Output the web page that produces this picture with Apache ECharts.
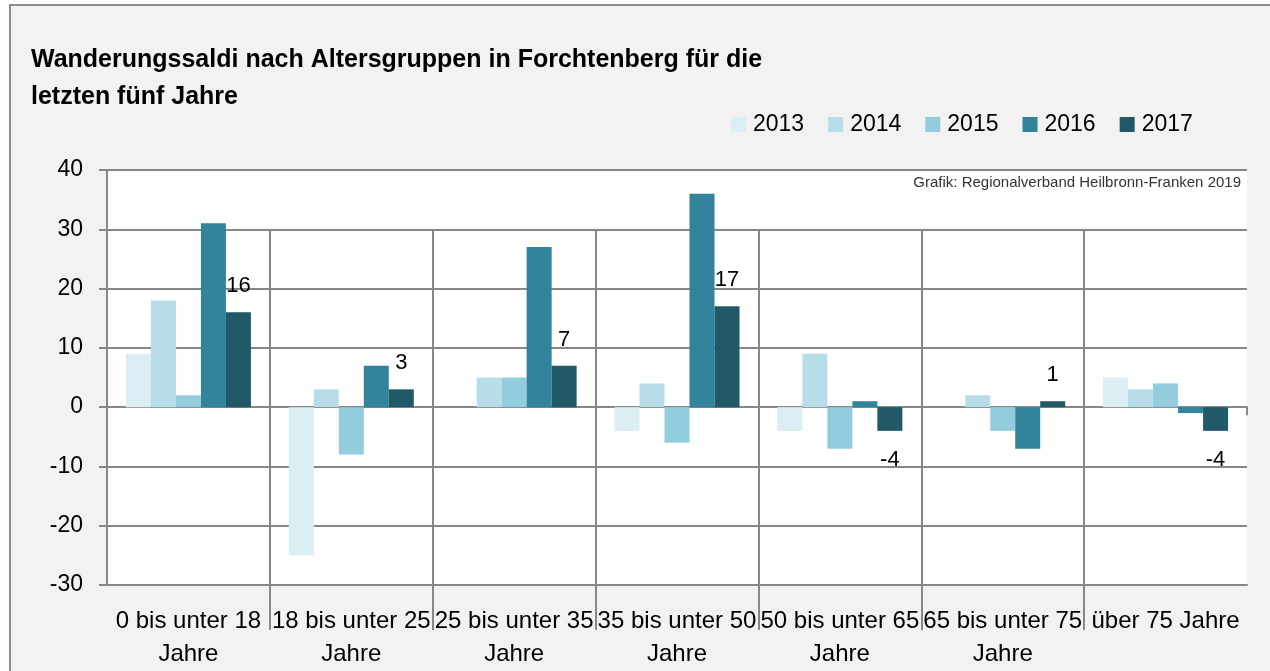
<!DOCTYPE html>
<html>
<head>
<meta charset="utf-8">
<script src="https://cdn.jsdelivr.net/npm/echarts@6/dist/echarts.min.js"></script>
<style>
  html, body { margin: 0; padding: 0; background: #fff; }
  #chart { width: 1270px; height: 671px; }
</style>
</head>
<body>
<div id="chart"></div>
<script>
// Altersgruppen
var categories = [
  '0 bis unter 18\nJahre',
  '18 bis unter 25\nJahre',
  '25 bis unter 35\nJahre',
  '35 bis unter 50\nJahre',
  '50 bis unter 65\nJahre',
  '65 bis unter 75\nJahre',
  'über 75 Jahre'
];
var years = ['2013', '2014', '2015', '2016', '2017'];

// Wanderungssaldi je Jahr
var saldo2013 = [9, -25, 0, -4, -4, 0, 5];
var saldo2014 = [18, 3, 5, 4, 9, 2, 3];
var saldo2015 = [2, -8, 5, -6, -7, -4, 4];
var saldo2016 = [31, 7, 27, 36, 1, -7, -1];
var saldo2017 = [16, 3, 7, 17, -4, 1, -4];

var yTicks = [-30, -20, -10, 0, 10, 20, 30, 40];

var colors = ['#daeef3', '#b7dee8', '#93cddd', '#31849b', '#215968'];
var font = 'Liberation Sans';
var gridColor = '#878787';

var chart = echarts.init(document.getElementById('chart'));

function barSeries(name, data, idx) {
  return {
    name: name,
    type: 'bar',
    xAxisIndex: 0,
    yAxisIndex: 0,
    barWidth: 25,
    barGap: '0%',
    itemStyle: { color: colors[idx] },
    data: data
  };
}

// Trennlinien zwischen den Gruppen: im Diagramm (30 bis -30) und darunter
var separators = [];
var separatorsBelow = [];
for (var k = 1; k < categories.length; k++) {
  separators.push([{ coord: [k, yTicks[yTicks.length - 2]] }, { coord: [k, yTicks[0]] }]);
  separatorsBelow.push([{ coord: [k, 0] }, { coord: [k, 1] }]);
}

function separatorSeries(xIdx, yIdx, lines) {
  return {
    type: 'line',
    xAxisIndex: xIdx,
    yAxisIndex: yIdx,
    data: [],
    silent: true,
    markLine: {
      silent: true,
      symbol: 'none',
      label: { show: false },
      lineStyle: { color: gridColor, width: 2, type: 'solid' },
      data: lines
    }
  };
}

var series = [
  barSeries(years[0], saldo2013, 0),
  barSeries(years[1], saldo2014, 1),
  barSeries(years[2], saldo2015, 2),
  barSeries(years[3], saldo2016, 3),
  barSeries(years[4], saldo2017.map(function (v) {
    return {
      value: v,
      label: { position: v < 0 ? 'bottom' : 'top', distance: v < 0 ? 18 : 15 }
    };
  }), 4)
];
series[4].label = {
  show: true,
  fontFamily: font,
  fontSize: 22,
  color: '#000'
};
series.push(separatorSeries(1, 0, separators));
series.push(separatorSeries(3, 1, separatorsBelow));

chart.setOption({
  backgroundColor: '#fff',
  animation: false,
  graphic: [
    {
      type: 'rect',
      z: -10,
      shape: { x: 10, y: 5, width: 1300, height: 700 },
      style: { fill: '#f2f2f2', stroke: '#8c8c8c', lineWidth: 2 }
    },
    {
      type: 'text',
      right: 29,
      top: 175,
      z: 10,
      style: {
        text: 'Grafik: Regionalverband Heilbronn-Franken 2019',
        font: '15px "Liberation Sans"',
        fill: '#333'
      }
    }
  ],
  title: {
    text: 'Wanderungssaldi nach Altersgruppen in Forchtenberg für die\nletzten fünf Jahre',
    left: 31,
    top: 42,
    padding: 0,
    textStyle: {
      fontFamily: font,
      fontSize: 25,
      fontWeight: 'bold',
      color: '#000',
      lineHeight: 37
    }
  },
  legend: {
    data: years,
    left: 731,
    top: 113,
    padding: 0,
    icon: 'rect',
    itemWidth: 15,
    itemHeight: 15,
    itemGap: 24,
    textStyle: { fontFamily: font, fontSize: 23, color: '#000', padding: [0, 0, 0, 2] }
  },
  grid: [
    {
      left: 107,
      right: 23,
      top: 170,
      bottom: 86,
      show: true,
      backgroundColor: '#fff',
      borderWidth: 0
    },
    {
      left: 107,
      right: 23,
      top: 585,
      height: 45,
      show: false
    }
  ],
  xAxis: [
    {
      type: 'category',
      data: categories,
      position: 'bottom',
      axisLine: { onZero: false, lineStyle: { color: gridColor, width: 2 } },
      axisTick: { show: false },
      axisLabel: {
        interval: 0,
        margin: 20,
        fontFamily: font,
        fontSize: 24,
        lineHeight: 33,
        color: '#000'
      }
    },
    {
      type: 'value',
      min: 0,
      max: categories.length,
      show: false
    },
    {
      type: 'category',
      data: categories,
      position: 'bottom',
      axisLine: { onZero: true, onZeroAxisIndex: 0, lineStyle: { color: gridColor, width: 2 } },
      axisTick: { show: true, length: 8, interval: 0, lineStyle: { color: gridColor, width: 2 } },
      axisLabel: { show: false }
    },
    {
      type: 'value',
      gridIndex: 1,
      min: 0,
      max: categories.length,
      show: false
    }
  ],
  yAxis: [
    {
      type: 'value',
      min: yTicks[0],
      max: yTicks[yTicks.length - 1],
      interval: 10,
      axisLine: { show: true, onZero: false, lineStyle: { color: gridColor, width: 2 } },
      axisTick: { show: true, length: 8, lineStyle: { color: gridColor, width: 2 } },
      axisLabel: { margin: 24, fontFamily: font, fontSize: 23, color: '#000' },
      splitLine: { lineStyle: { color: gridColor, width: 2 } }
    },
    {
      type: 'value',
      gridIndex: 1,
      min: 0,
      max: 1,
      show: false
    }
  ],
  series: series
});
</script>
</body>
</html>
